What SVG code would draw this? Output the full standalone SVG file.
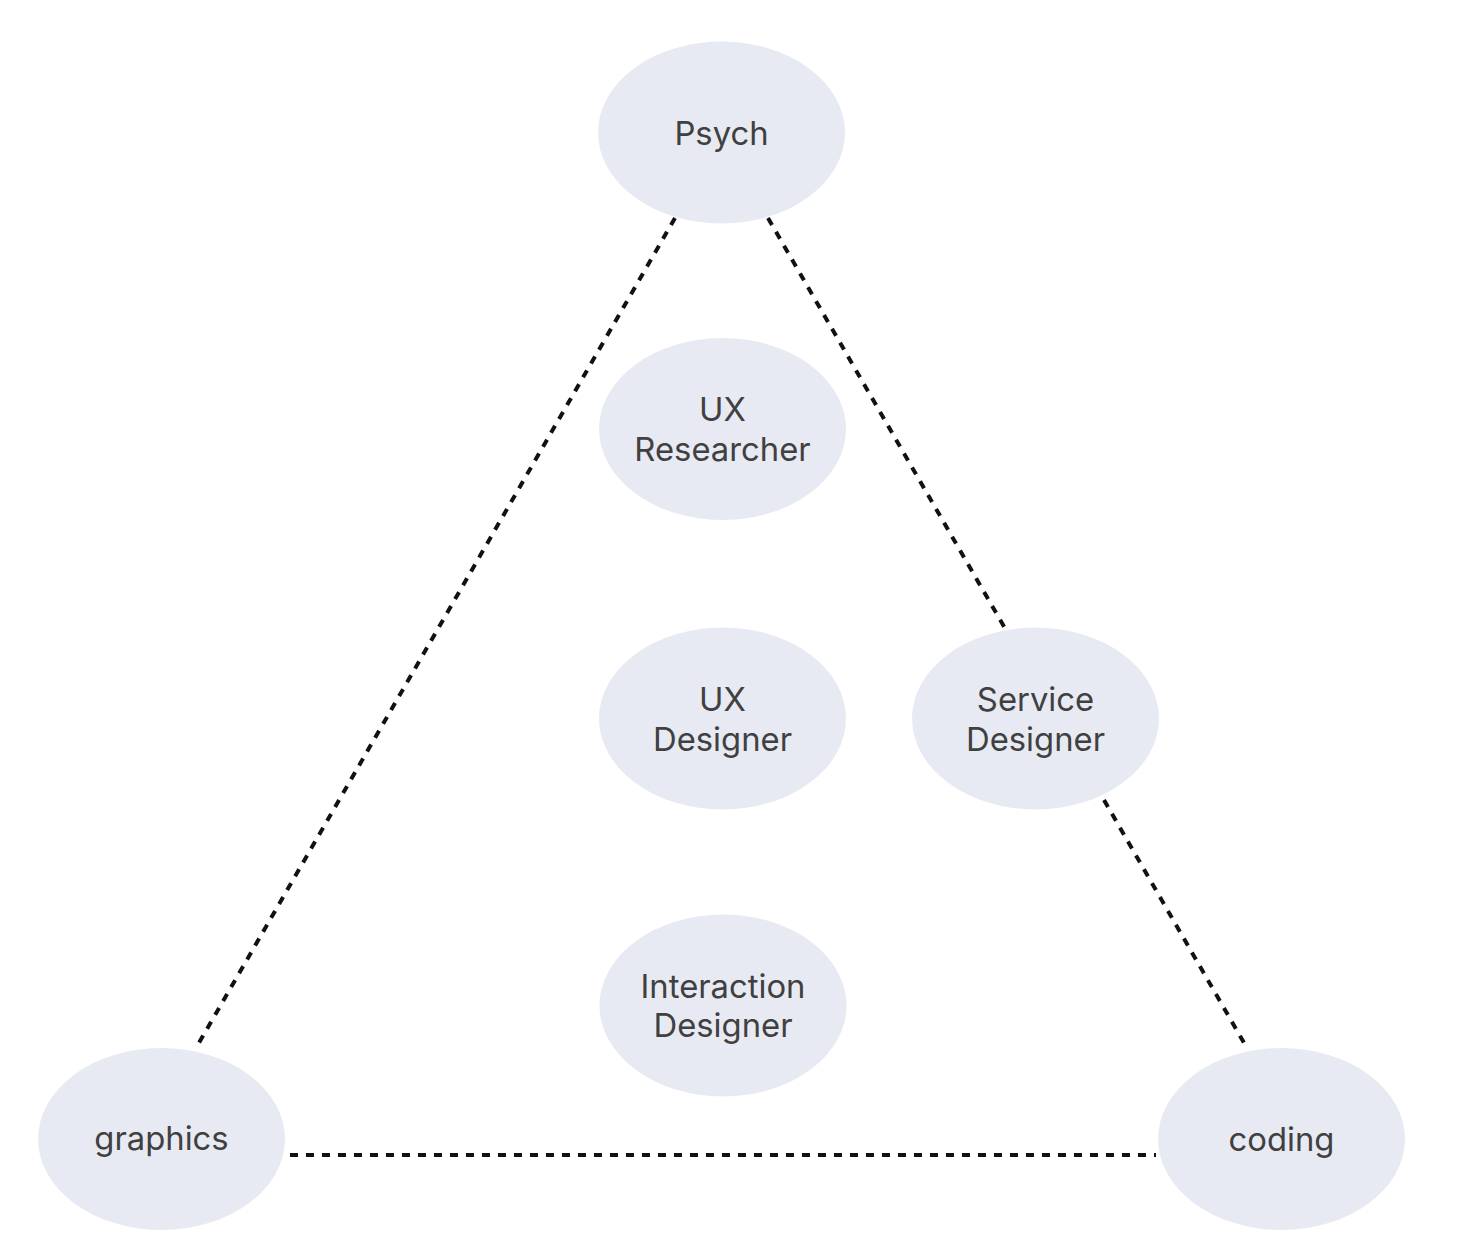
<svg xmlns="http://www.w3.org/2000/svg" width="1458" height="1260" viewBox="0 0 1458 1260">
<style>
.node ellipse{fill:#e8eaf3;}
.node text{font-family:Inter,"Liberation Sans",sans-serif;font-size:32.8px;fill:#404040;text-anchor:middle;}
.edge{stroke:#111;stroke-width:4;stroke-dasharray:8 8;fill:none;}
</style>
<rect width="1458" height="1260" fill="#ffffff"/>
<g id="connectors">
<line class="edge" x1="675" y1="218" x2="196" y2="1048"/>
<line class="edge" x1="768" y1="218" x2="1006" y2="630"/>
<line class="edge" x1="1104" y1="800" x2="1247" y2="1048"/>
<line class="edge" x1="290" y1="1155" x2="1156" y2="1155"/>
</g>
<g id="psych" class="node"><ellipse cx="721.5" cy="132.5" rx="123.5" ry="91"/><text x="721.5" y="144.5">Psych</text></g>
<g id="ux-researcher" class="node"><ellipse cx="722.5" cy="429" rx="123.5" ry="91"/><text x="722.5" y="420.5">UX</text><text x="722.5" y="460.5">Researcher</text></g>
<g id="ux-designer" class="node"><ellipse cx="722.5" cy="718.5" rx="123.5" ry="91"/><text x="722.5" y="710.5">UX</text><text x="722.5" y="750.5">Designer</text></g>
<g id="service-designer" class="node"><ellipse cx="1035.5" cy="718.5" rx="123.5" ry="91"/><text x="1035.5" y="710.5">Service</text><text x="1035.5" y="750.5">Designer</text></g>
<g id="interaction-designer" class="node"><ellipse cx="723" cy="1005.5" rx="123.5" ry="91"/><text x="723" y="997.5">Interaction</text><text x="723" y="1036.5">Designer</text></g>
<g id="graphics" class="node"><ellipse cx="161.5" cy="1139" rx="123.5" ry="91"/><text x="161.5" y="1149.5">graphics</text></g>
<g id="coding" class="node"><ellipse cx="1281.5" cy="1139" rx="123.5" ry="91"/><text x="1281.5" y="1150.5">coding</text></g>
</svg>
